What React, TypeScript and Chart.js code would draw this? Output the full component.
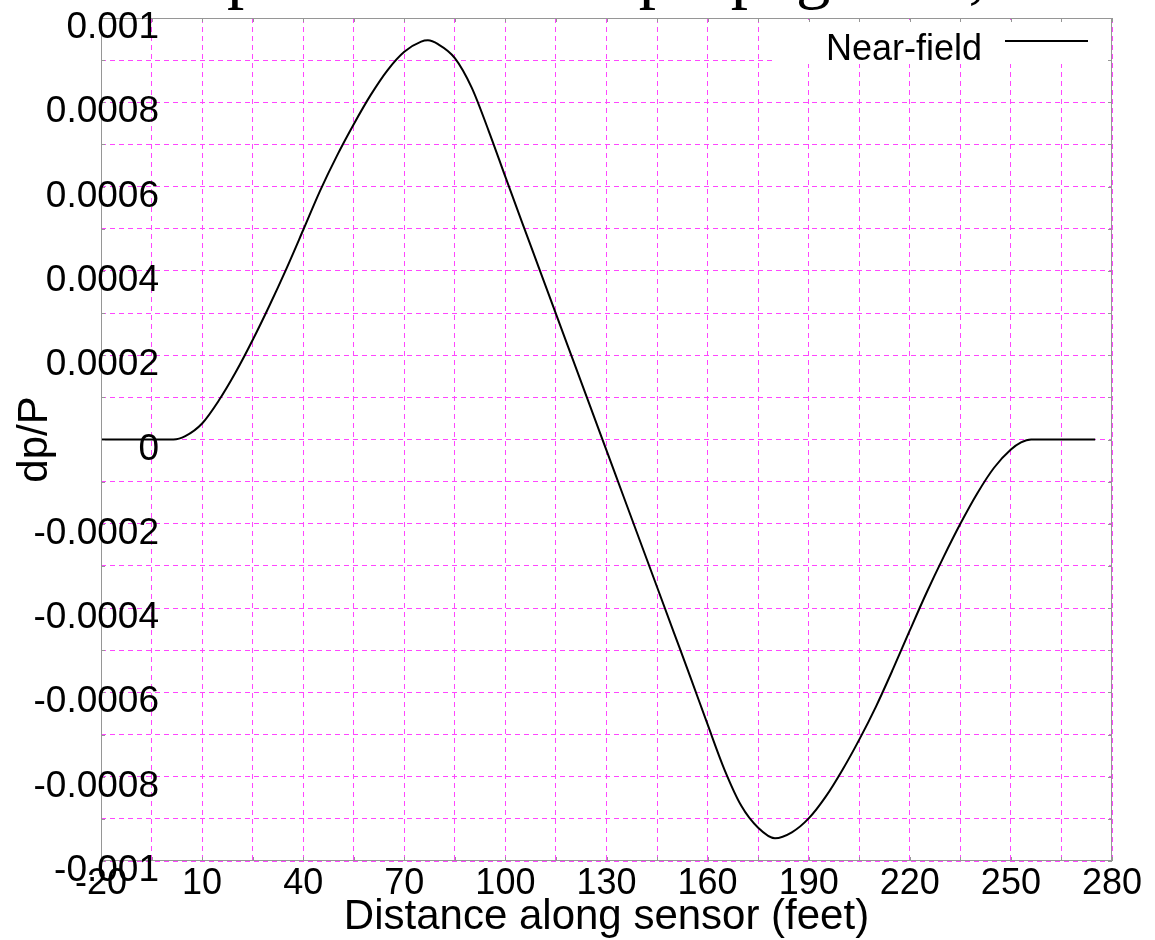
import React, { useEffect, useRef } from "react";
import { Chart, registerables } from "chart.js";

Chart.register(...registerables);

// Distance along sensor (feet)
const DIST = [
  -20, 1.5, 5, 10, 15, 20, 25, 30, 35, 40,
  45, 50, 55, 60, 65, 70, 75, 77, 80, 85,
  90, 95, 100, 105, 110, 115, 120, 125, 130, 135,
  140, 145, 150, 155, 160, 165, 170, 175, 180, 185,
  190, 195, 200, 205, 210, 215, 220, 225, 230, 235,
  240, 245, 250, 253, 256, 275,
];
// dp/P (Near-field)
const DPP = [
  0, 0, 0.000008, 0.000038, 0.000093, 0.00016, 0.000236, 0.000318, 0.000405, 0.000497,
  0.00059, 0.000673, 0.000748, 0.000817, 0.000876, 0.00092, 0.000944, 0.000947, 0.000938, 0.000905,
  0.000835, 0.000733, 0.000623, 0.000514, 0.000406, 0.000298, 0.00019, 0.000082, -0.000026, -0.000134,
  -0.000242, -0.00035, -0.000458, -0.000566, -0.000676, -0.000783, -0.000869, -0.000921, -0.000946, -0.000932,
  -0.000899, -0.000848, -0.000784, -0.000712, -0.000633, -0.000545, -0.000453, -0.000363, -0.000279, -0.0002,
  -0.000128, -0.000067, -0.000024, -0.000007, 0, 0,
];

const X_LABELS = [-20, 10, 40, 70, 100, 130, 160, 190, 220, 250, 280];
const X_GRID = [-20, -5, 10, 25, 40, 55, 70, 85, 100, 115, 130, 145, 160, 175, 190, 205, 220, 235, 250, 265, 280];
const Y_LABELS = [-0.001, -0.0008, -0.0006, -0.0004, -0.0002, 0, 0.0002, 0.0004, 0.0006, 0.0008, 0.001];
const Y_LABEL_TEXT = ["-0.001", "-0.0008", "-0.0006", "-0.0004", "-0.0002", "0", "0.0002", "0.0004", "0.0006", "0.0008", "0.001"];
const Y_GRID = [
  -0.001, -0.0009, -0.0008, -0.0007, -0.0006, -0.0005, -0.0004, -0.0003, -0.0002, -0.0001, 0,
  0.0001, 0.0002, 0.0003, 0.0004, 0.0005, 0.0006, 0.0007, 0.0008, 0.0009, 0.001,
];

const SERIES_NAME = "Near-field";
const X_TITLE = "Distance along sensor (feet)";
const Y_TITLE = "dp/P";
const PAGE_TEXT = "Example of N-wave propagation, and its signature";

const GRID_COLOR = "rgb(255,70,255)";
const BORDER_COLOR = "rgb(150,150,150)";
const SANS = '"Liberation Sans", Arial, sans-serif';

const overlayPlugin = {
  id: "overlay",
  afterDatasetsDraw(chart: any) {
    const { ctx, chartArea } = chart;
    const xs = chart.scales.x;
    const ys = chart.scales.y;
    const { left, right, top, bottom } = chartArea;
    ctx.save();

    // page text cut off at the top
    ctx.fillStyle = "#000";
    ctx.font = '69px "Liberation Serif", "Times New Roman", serif';
    ctx.textAlign = "left";
    ctx.textBaseline = "alphabetic";
    ctx.fillText(PAGE_TEXT, 66, -5);

    // opaque key box
    ctx.fillStyle = "#fff";
    ctx.fillRect(775, top + 2, right - 1 - 775, 44);

    // border
    ctx.strokeStyle = BORDER_COLOR;
    ctx.lineWidth = 1;
    ctx.setLineDash([]);
    ctx.strokeRect(left + 0.5, top + 0.5, right - left - 1, bottom - top - 1);

    // inward ticks on all sides
    ctx.beginPath();
    X_GRID.forEach((v) => {
      const px = Math.round(xs.getPixelForValue(v)) + 0.5;
      ctx.moveTo(px, bottom);
      ctx.lineTo(px, bottom - 4);
      ctx.moveTo(px, top);
      ctx.lineTo(px, top + 4);
    });
    Y_GRID.forEach((v) => {
      const py = Math.round(ys.getPixelForValue(v)) + 0.5;
      ctx.moveTo(left, py);
      ctx.lineTo(left + 4, py);
      ctx.moveTo(right, py);
      ctx.lineTo(right - 4, py);
    });
    ctx.stroke();

    ctx.fillStyle = "#000";
    // y tick labels
    ctx.font = `37px ${SANS}`;
    ctx.textAlign = "right";
    Y_LABELS.forEach((v, i) => {
      const py = ys.getPixelForValue(v);
      ctx.fillText(Y_LABEL_TEXT[i], 159, py + 20);
    });
    // x tick labels
    ctx.font = `36px ${SANS}`;
    ctx.textAlign = "center";
    X_LABELS.forEach((v) => {
      const px = xs.getPixelForValue(v);
      ctx.fillText(String(v), px, bottom + 33);
    });

    // axis titles
    ctx.font = `42px ${SANS}`;
    ctx.textAlign = "center";
    ctx.fillText(X_TITLE, (left + right) / 2, 929);
    ctx.save();
    ctx.translate(47, (top + bottom) / 2);
    ctx.rotate(-Math.PI / 2);
    ctx.fillText(Y_TITLE, 0, 0);
    ctx.restore();

    // key
    ctx.font = `36px ${SANS}`;
    ctx.textAlign = "right";
    ctx.fillText(SERIES_NAME, 982, 60);
    ctx.strokeStyle = "#000";
    ctx.lineWidth = 2;
    ctx.beginPath();
    ctx.moveTo(1005, 41);
    ctx.lineTo(1088, 41);
    ctx.stroke();

    ctx.restore();
  },
};

export default function App() {
  const canvasRef = useRef<HTMLCanvasElement | null>(null);

  useEffect(() => {
    const canvas = canvasRef.current;
    if (!canvas) return;
    const chart = new Chart(canvas, {
      type: "line",
      data: {
        datasets: [
          {
            label: SERIES_NAME,
            data: DIST.map((d, i) => ({ x: d, y: DPP[i] })),
            borderColor: "#000",
            borderWidth: 2,
            pointRadius: 0,
            fill: false,
            cubicInterpolationMode: "monotone",
          },
        ],
      },
      options: {
        responsive: false,
        animation: false,
        devicePixelRatio: 1,
        layout: { padding: { top: 18, right: 43, left: 0, bottom: 0 } },
        plugins: {
          legend: { display: false },
          tooltip: { enabled: false },
          title: { display: false },
        },
        scales: {
          x: {
            type: "linear",
            min: -20,
            max: 280,
            afterBuildTicks: (s: any) => {
              s.ticks = X_GRID.map((v) => ({ value: v }));
            },
            afterFit: (s: any) => {
              s.height = 79;
            },
            ticks: { display: false },
            grid: { color: GRID_COLOR, lineWidth: 1, drawTicks: false },
            border: { display: false, dash: [5, 4] },
          },
          y: {
            type: "linear",
            min: -0.001,
            max: 0.001,
            afterBuildTicks: (s: any) => {
              s.ticks = Y_GRID.map((v) => ({ value: v }));
            },
            afterFit: (s: any) => {
              s.width = 101;
            },
            ticks: { display: false },
            grid: { color: GRID_COLOR, lineWidth: 1, drawTicks: false },
            border: { display: false, dash: [5, 4] },
          },
        },
      } as any,
      plugins: [overlayPlugin],
    });
    return () => chart.destroy();
  }, []);

  return (
    <div style={{ position: "absolute", left: 0, top: 0, width: 1155, height: 940, background: "#fff" }}>
      <canvas ref={canvasRef} width={1155} height={940} style={{ display: "block" }} />
    </div>
  );
}
